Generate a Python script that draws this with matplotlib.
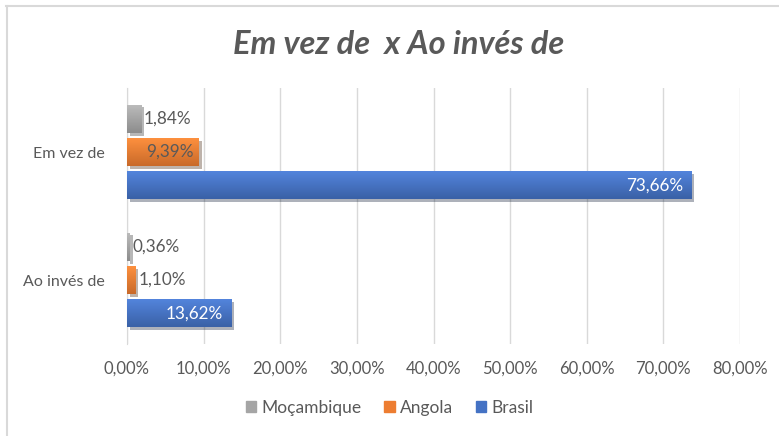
import numpy as np
import matplotlib.pyplot as plt
import matplotlib.patheffects as pe
from matplotlib.colors import LinearSegmentedColormap, to_rgb
from matplotlib.lines import Line2D
from matplotlib.patches import Patch

plt.rcParams['font.family'] = ['Lato', 'DejaVu Sans']

# dados
categorias = ['Ao invés de', 'Em vez de']
series = ['Brasil', 'Angola', 'Moçambique']
brasil = [13.62, 73.66]
angola = [1.10, 9.39]
mocambique = [0.36, 1.84]
ticks = [0, 10, 20, 30, 40, 50, 60, 70, 80]

valores = {'Brasil': brasil, 'Angola': angola, 'Moçambique': mocambique}
cores = {'Brasil': '#4472C4', 'Angola': '#ED7D31', 'Moçambique': '#A5A5A5'}
offsets = {'Brasil': -0.26, 'Angola': 0.0, 'Moçambique': 0.26}
cinza = '#595959'


def fmt(v):
    return f'{v:.2f}'.replace('.', ',') + '%'


def degrade(c):
    r, g, b = to_rgb(c)
    claro = tuple(min(1, x * 1.08 + 0.04) for x in (r, g, b))
    escuro = tuple(x * 0.85 for x in (r, g, b))
    return LinearSegmentedColormap.from_list('g', [escuro, claro])


fig = plt.figure(figsize=(7.79, 4.36), dpi=100)
ax = fig.add_axes([127 / 779, 1 - 344 / 436, (740 - 127) / 779, (344 - 88) / 436])

y = np.arange(len(categorias))
h = 0.22
for s in series:
    bars = ax.barh(y + offsets[s], valores[s], height=h, color=cores[s], zorder=3,
                   path_effects=[pe.SimplePatchShadow(offset=(2, -2), alpha=0.35), pe.Normal()])
    cmap = degrade(cores[s])
    for b, v in zip(bars, valores[s]):
        x0, y0 = b.get_x(), b.get_y()
        im = ax.imshow(np.linspace(0, 1, 50).reshape(-1, 1), cmap=cmap, origin='lower',
                       extent=[x0, x0 + b.get_width(), y0, y0 + h], aspect='auto', zorder=4)
        im.set_clip_path(b)
        yc = y0 + h / 2
        if s == 'Brasil':
            ax.annotate(fmt(v), (v, yc), xytext=(-6, 0), textcoords='offset points',
                        ha='right', va='center', color='white', fontsize=12.3, zorder=5)
        elif s == 'Angola' and v > 5:
            ax.annotate(fmt(v), (v, yc), xytext=(-4, 0), textcoords='offset points',
                        ha='right', va='center', color=cinza, fontsize=12.3, zorder=5)
        else:
            ax.annotate(fmt(v), (v, yc), xytext=(2, 0), textcoords='offset points',
                        ha='left', va='center', color=cinza, fontsize=12.3, zorder=5)

ax.set_xlim(0, 80)
ax.set_ylim(-0.5, 1.5)
ax.set_xticks(ticks)
ax.set_xticklabels([fmt(t) for t in ticks], color=cinza, fontsize=12)
ax.set_yticks(y)
ax.set_yticklabels(categorias, color=cinza, fontsize=11.5)
ax.tick_params(length=0, pad=12)
ax.tick_params(axis='y', pad=16)
ax.grid(axis='x', color='#D9D9D9', linewidth=1, zorder=0)
for lado in ['top', 'right', 'bottom']:
    ax.spines[lado].set_visible(False)
ax.spines['left'].set_color('#D9D9D9')

fig.text(0.512, 1 - 45 / 436, 'Em vez de  x Ao invés de', ha='center', va='center',
         fontsize=23.5, fontweight='bold', fontstyle='italic', color=cinza)

handles = [Patch(color=cores[s]) for s in ['Moçambique', 'Angola', 'Brasil']]
fig.legend(handles, ['Moçambique', 'Angola', 'Brasil'], loc='center',
           bbox_to_anchor=(0.5, 1 - 408 / 436), ncol=3, frameon=False,
           handlelength=0.6, handleheight=0.6, handletextpad=0.3, columnspacing=1.3,
           labelcolor=cinza, fontsize=12.5)

# borda do gráfico
fig.add_artist(Line2D([6 / 779, 1], [1 - 6.5 / 436] * 2, color='#D9D9D9', lw=1.5))
fig.add_artist(Line2D([6.5 / 779] * 2, [0, 1 - 6 / 436], color='#D9D9D9', lw=1.5))

fig.savefig('out.png', dpi=100)
